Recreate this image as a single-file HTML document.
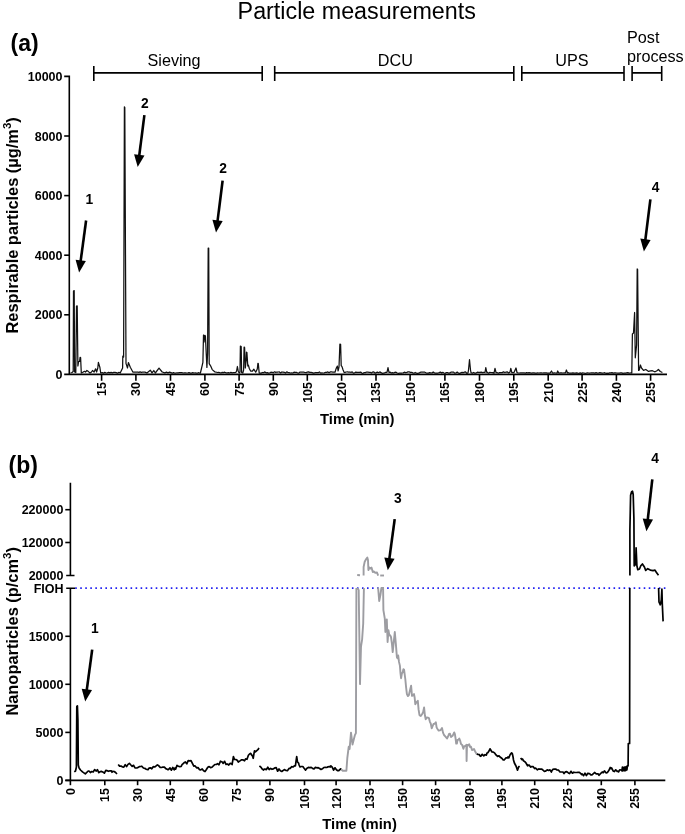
<!DOCTYPE html><html><head><meta charset="utf-8"><title>Particle measurements</title><style>html,body{margin:0;padding:0;background:#fff;overflow:hidden}svg{display:block;will-change:transform}text{font-family:"Liberation Sans",sans-serif;fill:#000}.b{font-weight:bold}.t{font-size:12.5px;font-weight:bold}.n{font-size:13.8px;font-weight:bold}.p{font-size:16.2px}</style></head><body><svg width="685" height="834" viewBox="0 0 685 834"><text x="237.6" y="18.7" style="font-size:23.3px">Particle measurements</text><text class="b" x="10.5" y="51" style="font-size:23px">(a)</text><text class="b" x="8.5" y="473" style="font-size:23px">(b)</text><path d="M93.8,66V81M93.8,72.9H262.2M262.2,66V81" stroke="#000" stroke-width="1.6" fill="none"/><path d="M274.7,66V81M274.7,72.9H513.8M513.8,66V81" stroke="#000" stroke-width="1.6" fill="none"/><path d="M521.8,66V81M521.8,72.9H624M624,66V81" stroke="#000" stroke-width="1.6" fill="none"/><path d="M632.1,66V81M632.1,72.9H661.7M661.7,66V81" stroke="#000" stroke-width="1.6" fill="none"/><text class="p" x="147.5" y="66">Sieving</text><text class="p" x="377.8" y="66">DCU</text><text class="p" x="555.3" y="66">UPS</text><text class="p" x="627" y="42.8">Post</text><text class="p" x="627" y="61.5">process</text><path d="M64.2,76.4H69.3V374.35M64.2,374.35H667" stroke="#000" stroke-width="1.6" fill="none"/><path d="M64.2,314.8H69.3" stroke="#000" stroke-width="1.6"/><path d="M64.2,255.2H69.3" stroke="#000" stroke-width="1.6"/><path d="M64.2,195.6H69.3" stroke="#000" stroke-width="1.6"/><path d="M64.2,136.0H69.3" stroke="#000" stroke-width="1.6"/><text class="t" x="62.5" y="378.9" text-anchor="end">0</text><text class="t" x="62.5" y="319.3" text-anchor="end">2000</text><text class="t" x="62.5" y="259.7" text-anchor="end">4000</text><text class="t" x="62.5" y="200.1" text-anchor="end">6000</text><text class="t" x="62.5" y="140.5" text-anchor="end">8000</text><text class="t" x="62.5" y="80.9" text-anchor="end">10000</text><path d="M101.6,374.3V380.8" stroke="#000" stroke-width="1.6"/><text class="t" transform="translate(106.0,382) rotate(-90)" text-anchor="end">15</text><path d="M135.9,374.3V380.8" stroke="#000" stroke-width="1.6"/><text class="t" transform="translate(140.3,382) rotate(-90)" text-anchor="end">30</text><path d="M170.5,374.3V380.8" stroke="#000" stroke-width="1.6"/><text class="t" transform="translate(174.9,382) rotate(-90)" text-anchor="end">45</text><path d="M204.9,374.3V380.8" stroke="#000" stroke-width="1.6"/><text class="t" transform="translate(209.3,382) rotate(-90)" text-anchor="end">60</text><path d="M239.1,374.3V380.8" stroke="#000" stroke-width="1.6"/><text class="t" transform="translate(243.5,382) rotate(-90)" text-anchor="end">75</text><path d="M273.3,374.3V380.8" stroke="#000" stroke-width="1.6"/><text class="t" transform="translate(277.8,382) rotate(-90)" text-anchor="end">90</text><path d="M307.3,374.3V380.8" stroke="#000" stroke-width="1.6"/><text class="t" transform="translate(311.8,382) rotate(-90)" text-anchor="end">105</text><path d="M341.6,374.3V380.8" stroke="#000" stroke-width="1.6"/><text class="t" transform="translate(346.1,382) rotate(-90)" text-anchor="end">120</text><path d="M376.0,374.3V380.8" stroke="#000" stroke-width="1.6"/><text class="t" transform="translate(380.4,382) rotate(-90)" text-anchor="end">135</text><path d="M410.1,374.3V380.8" stroke="#000" stroke-width="1.6"/><text class="t" transform="translate(414.6,382) rotate(-90)" text-anchor="end">150</text><path d="M444.9,374.3V380.8" stroke="#000" stroke-width="1.6"/><text class="t" transform="translate(449.3,382) rotate(-90)" text-anchor="end">165</text><path d="M479.5,374.3V380.8" stroke="#000" stroke-width="1.6"/><text class="t" transform="translate(483.9,382) rotate(-90)" text-anchor="end">180</text><path d="M513.8,374.3V380.8" stroke="#000" stroke-width="1.6"/><text class="t" transform="translate(518.2,382) rotate(-90)" text-anchor="end">195</text><path d="M548.2,374.3V380.8" stroke="#000" stroke-width="1.6"/><text class="t" transform="translate(552.7,382) rotate(-90)" text-anchor="end">210</text><path d="M582.1,374.3V380.8" stroke="#000" stroke-width="1.6"/><text class="t" transform="translate(586.6,382) rotate(-90)" text-anchor="end">225</text><path d="M616.4,374.3V380.8" stroke="#000" stroke-width="1.6"/><text class="t" transform="translate(620.9,382) rotate(-90)" text-anchor="end">240</text><path d="M650.6,374.3V380.8" stroke="#000" stroke-width="1.6"/><text class="t" transform="translate(655.1,382) rotate(-90)" text-anchor="end">255</text><text class="b" x="320" y="423.8" style="font-size:14.8px">Time (min)</text><text class="b" transform="translate(17.8,333.5) rotate(-90)" style="font-size:16.4px">Respirable particles (µg/m<tspan dy="-6.8" style="font-size:11.5px">3</tspan><tspan dy="6.8">)</tspan></text><polyline points="70.5,373.0 72.0,372.5 73.2,371.5 73.5,291.0 74.2,290.6 74.6,372.0 75.8,372.5 76.5,306.0 77.2,305.8 77.9,366.0 78.6,361.5 79.6,361.4 80.1,357.3 80.6,357.5 81.3,373.0 82.5,372.5 84.4,371.3 85.5,372.0 86.9,370.5 88.4,371.6 90.0,373.0 91.5,372.0 92.5,370.5 94.1,372.0 95.6,368.8 96.6,372.0 97.8,368.0 98.4,362.4 99.9,367.5 100.7,373.0 101.0,372.8 102.3,372.6 103.5,373.2 104.8,372.4 106.1,373.0 107.3,372.8 108.6,372.4 109.9,372.9 111.1,372.3 112.4,372.8 113.7,372.4 114.9,372.4 116.2,372.7 117.5,373.2 118.7,372.4 120.0,372.5 120.2,373.0 121.9,369.5 122.6,368.0 122.8,356.1 123.6,357.0 124.4,106.8 124.8,107.5 126.0,363.4 127.5,368.0 128.4,362.6 130.3,367.2 133.0,372.2 134.0,372.0 135.2,372.2 136.4,372.1 137.7,372.0 138.9,372.4 140.1,371.9 141.3,372.4 142.6,372.2 143.8,372.1 145.0,372.2 146.9,373.0 150.3,370.2 152.0,372.9 153.8,370.5 155.3,373.0 159.0,368.1 162.2,372.0 164.8,372.8 166.5,372.2 168.0,372.8 169.5,372.2 171.0,372.7 172.2,373.2 173.4,372.6 174.6,373.0 175.8,373.0 177.0,372.8 178.2,372.9 179.5,372.6 180.7,372.5 181.9,372.7 183.1,373.0 184.3,372.8 185.5,372.8 186.7,373.0 187.9,372.9 189.1,372.7 190.3,373.1 191.5,373.1 192.8,372.7 194.0,373.0 195.2,372.9 196.4,373.2 197.6,373.1 198.8,372.7 200.0,373.3 200.4,373.0 201.6,368.0 202.9,362.4 203.5,335.0 204.1,342.0 204.7,335.3 205.4,336.0 206.9,367.4 207.6,353.0 208.2,248.0 208.7,248.0 209.2,363.7 210.7,366.1 212.2,369.6 214.7,371.8 217.8,372.5 218.5,372.4 219.7,372.7 221.0,373.0 222.2,372.4 223.4,372.7 224.7,372.2 225.9,372.8 227.2,372.9 228.4,372.7 229.6,373.0 230.9,372.4 232.1,372.8 233.3,372.6 234.6,372.6 235.8,372.5 236.6,371.0 237.4,366.5 238.3,371.5 239.2,373.0 240.0,372.0 240.4,346.1 241.2,346.5 241.6,372.5 242.8,373.0 243.6,370.0 244.1,347.1 244.6,347.5 245.3,368.0 246.2,360.0 246.5,352.1 246.9,352.5 247.8,366.0 248.4,365.2 249.3,368.5 250.6,371.0 252.5,371.0 253.9,369.2 255.7,372.2 257.3,369.0 257.9,363.4 258.3,363.6 259.2,373.0 260.0,373.0 261.2,373.1 262.4,372.5 263.6,372.7 264.9,371.9 266.1,372.8 267.3,372.7 268.5,373.2 269.7,373.0 270.9,372.2 272.1,372.3 273.3,372.7 274.6,371.8 275.8,372.4 277.0,372.0 278.2,372.0 279.4,371.9 280.6,372.9 281.8,372.0 283.0,372.1 284.3,372.3 285.5,373.0 286.7,371.9 287.9,372.4 289.1,372.6 290.3,373.0 291.5,372.9 292.8,373.0 294.0,372.2 295.2,372.4 296.4,372.3 297.6,373.0 298.8,373.1 300.0,372.0 301.2,372.0 302.5,372.1 303.7,372.1 304.9,372.5 306.1,372.6 307.3,372.2 308.5,371.8 309.7,372.4 311.0,372.3 312.2,372.6 313.4,373.1 314.6,372.8 315.8,372.5 317.0,372.7 318.2,372.7 319.4,371.9 320.7,373.1 321.9,372.9 323.1,373.0 324.3,372.9 325.5,372.3 326.7,372.4 327.9,371.9 329.1,372.7 330.4,371.9 331.6,371.9 332.8,372.1 334.0,372.0 335.0,372.2 336.2,368.4 337.4,366.1 338.1,370.8 339.0,367.0 339.9,344.1 340.6,344.3 341.2,365.6 342.0,366.6 343.0,369.8 344.2,372.5 345.0,372.4 346.2,372.0 347.4,371.9 348.6,372.1 349.8,372.0 351.0,372.4 352.2,371.9 353.4,373.1 354.6,372.8 355.8,372.1 357.0,372.3 358.2,372.4 359.4,372.4 360.6,372.1 361.8,373.1 363.0,373.3 364.2,372.6 365.4,372.6 366.6,372.0 367.8,372.0 369.0,372.4 370.2,372.3 371.4,373.1 372.6,372.1 373.8,371.9 375.0,373.2 376.2,372.6 377.4,372.1 378.6,372.7 379.8,371.9 381.0,372.6 382.2,373.3 383.4,373.1 384.6,372.9 385.8,372.3 387.0,372.4 388.0,367.6 389.0,372.5 390.0,372.1 391.2,373.0 392.4,372.6 393.6,373.0 394.8,372.4 396.0,372.2 397.2,373.0 398.4,373.3 399.6,373.1 400.8,373.0 402.0,373.0 403.2,372.9 404.4,372.2 405.6,372.6 406.8,372.4 408.0,371.9 409.2,371.9 410.4,372.3 411.6,372.3 412.8,372.9 414.0,373.2 415.2,372.5 416.4,373.2 417.6,373.3 418.8,373.2 420.0,372.4 421.2,372.2 422.4,372.2 423.6,372.2 424.8,372.2 426.0,372.8 427.2,373.2 428.4,373.1 429.6,372.6 430.8,372.8 432.0,373.0 433.2,372.0 434.4,372.8 435.6,373.2 436.8,373.0 438.0,373.0 439.2,372.6 440.4,372.1 441.6,373.0 442.8,372.4 444.0,373.0 445.2,373.3 446.4,372.5 447.6,372.5 448.8,373.2 450.0,372.9 451.2,372.1 452.4,372.1 453.6,372.1 454.8,373.2 456.0,373.0 457.2,372.1 458.4,373.1 459.6,373.3 460.8,372.8 462.0,372.4 463.2,372.7 464.4,372.1 465.6,371.9 466.8,373.3 468.0,372.8 468.5,370.0 469.5,359.7 470.5,370.0 471.0,372.6 472.3,373.2 473.5,372.5 474.8,373.1 476.1,373.1 477.4,372.2 478.6,372.3 479.9,372.3 481.2,372.2 482.5,372.7 483.7,372.3 485.0,372.5 485.8,367.6 486.8,372.5 487.0,372.1 488.4,373.2 489.8,372.4 491.2,372.5 492.6,372.7 494.0,373.2 495.0,368.4 496.0,372.5 497.0,372.5 498.3,373.2 499.6,372.6 500.9,372.6 502.2,372.6 503.5,371.9 504.8,372.5 506.1,372.2 507.4,371.9 508.7,373.0 510.0,372.1 510.8,368.4 511.8,372.5 514.0,372.5 516.0,368.0 517.0,372.5 518.0,372.9 519.2,373.0 520.5,372.9 521.7,372.8 522.9,372.9 524.2,372.9 525.4,373.1 526.6,372.7 527.8,372.9 529.1,372.7 530.3,372.8 531.5,373.1 532.8,372.9 534.0,372.9 535.2,373.1 536.5,373.1 537.7,372.9 538.9,373.0 540.2,372.9 541.4,372.9 542.6,373.0 543.8,372.9 545.1,372.9 546.3,372.9 547.5,373.2 548.8,373.0 550.0,373.1 551.5,371.0 552.5,373.0 553.0,373.2 554.3,372.9 555.7,373.0 557.0,373.2 557.7,371.0 558.7,373.0 559.0,373.1 560.3,372.9 561.6,372.8 562.9,373.0 564.2,372.8 565.5,372.9 566.4,370.0 567.5,373.0 568.0,372.7 569.2,373.1 570.4,373.2 571.7,373.2 572.9,372.8 574.1,373.1 575.3,373.1 576.5,372.8 577.8,373.2 579.0,373.3 580.2,372.8 581.4,373.3 582.7,372.9 583.9,373.0 585.1,373.3 586.3,373.2 587.5,372.8 588.8,373.0 590.0,373.0 591.2,372.9 592.4,372.8 593.6,372.9 594.9,373.1 596.1,372.7 597.3,373.0 598.5,373.0 599.8,372.7 601.0,372.9 602.2,373.1 603.4,373.0 604.6,372.7 605.9,373.3 607.1,373.2 608.3,373.3 609.5,372.8 610.7,372.9 612.0,372.7 613.2,373.2 614.4,372.9 615.6,372.8 616.8,373.0 618.1,373.2 619.3,373.2 620.5,372.9 621.7,372.8 623.0,373.3 624.2,373.0 625.4,373.1 626.6,372.8 627.8,372.7 629.1,373.1 630.3,373.0 631.5,372.7 631.8,373.0 632.4,334.0 633.5,333.0 634.6,312.5 635.3,357.8 636.6,345.0 637.2,269.0 637.6,269.5 638.6,370.4 639.3,370.0 640.4,365.0 641.5,368.0 643.5,370.4 645.8,369.5 648.6,371.4 650.5,370.8 652.4,370.7 654.7,371.8 656.6,371.0 658.4,369.5 660.3,371.5 662.4,372.5" fill="none" stroke="#111" stroke-width="1.25" stroke-linejoin="round"/><path d="M70.4,482.7V575.5M66.2,575.5H74.5M66.2,588.3H75.2M70.4,588.3V780.4M65.3,780.4H665.3" stroke="#000" stroke-width="1.6" fill="none"/><path d="M65.3,509.7H70.4" stroke="#000" stroke-width="1.6"/><text class="t" x="63.4" y="514.2" text-anchor="end">220000</text><path d="M65.3,542.5H70.4" stroke="#000" stroke-width="1.6"/><text class="t" x="63.4" y="547.0" text-anchor="end">120000</text><text class="t" x="63.4" y="580.0" text-anchor="end">20000</text><text class="t" x="63.6" y="592.6" text-anchor="end">FIOH</text><path d="M65.3,780.4H70.4" stroke="#000" stroke-width="1.6"/><text class="t" x="63.4" y="784.9" text-anchor="end">0</text><path d="M65.3,732.4H70.4" stroke="#000" stroke-width="1.6"/><text class="t" x="63.4" y="736.9" text-anchor="end">5000</text><path d="M65.3,684.3H70.4" stroke="#000" stroke-width="1.6"/><text class="t" x="63.4" y="688.8" text-anchor="end">10000</text><path d="M65.3,636.3H70.4" stroke="#000" stroke-width="1.6"/><text class="t" x="63.4" y="640.8" text-anchor="end">15000</text><path d="M70.4,780.4V785.2" stroke="#000" stroke-width="1.6"/><text class="t" transform="translate(74.9,788) rotate(-90)" text-anchor="end">0</text><path d="M104.8,780.4V785.2" stroke="#000" stroke-width="1.6"/><text class="t" transform="translate(109.2,788) rotate(-90)" text-anchor="end">15</text><path d="M137.6,780.4V785.2" stroke="#000" stroke-width="1.6"/><text class="t" transform="translate(142.0,788) rotate(-90)" text-anchor="end">30</text><path d="M170.3,780.4V785.2" stroke="#000" stroke-width="1.6"/><text class="t" transform="translate(174.8,788) rotate(-90)" text-anchor="end">45</text><path d="M203.4,780.4V785.2" stroke="#000" stroke-width="1.6"/><text class="t" transform="translate(207.8,788) rotate(-90)" text-anchor="end">60</text><path d="M236.9,780.4V785.2" stroke="#000" stroke-width="1.6"/><text class="t" transform="translate(241.3,788) rotate(-90)" text-anchor="end">75</text><path d="M269.9,780.4V785.2" stroke="#000" stroke-width="1.6"/><text class="t" transform="translate(274.3,788) rotate(-90)" text-anchor="end">90</text><path d="M304.5,780.4V785.2" stroke="#000" stroke-width="1.6"/><text class="t" transform="translate(308.9,788) rotate(-90)" text-anchor="end">105</text><path d="M336.1,780.4V785.2" stroke="#000" stroke-width="1.6"/><text class="t" transform="translate(340.6,788) rotate(-90)" text-anchor="end">120</text><path d="M370.0,780.4V785.2" stroke="#000" stroke-width="1.6"/><text class="t" transform="translate(374.4,788) rotate(-90)" text-anchor="end">135</text><path d="M402.6,780.4V785.2" stroke="#000" stroke-width="1.6"/><text class="t" transform="translate(407.1,788) rotate(-90)" text-anchor="end">150</text><path d="M435.6,780.4V785.2" stroke="#000" stroke-width="1.6"/><text class="t" transform="translate(440.1,788) rotate(-90)" text-anchor="end">165</text><path d="M470.0,780.4V785.2" stroke="#000" stroke-width="1.6"/><text class="t" transform="translate(474.4,788) rotate(-90)" text-anchor="end">180</text><path d="M501.9,780.4V785.2" stroke="#000" stroke-width="1.6"/><text class="t" transform="translate(506.3,788) rotate(-90)" text-anchor="end">195</text><path d="M534.7,780.4V785.2" stroke="#000" stroke-width="1.6"/><text class="t" transform="translate(539.2,788) rotate(-90)" text-anchor="end">210</text><path d="M567.8,780.4V785.2" stroke="#000" stroke-width="1.6"/><text class="t" transform="translate(572.2,788) rotate(-90)" text-anchor="end">225</text><path d="M601.3,780.4V785.2" stroke="#000" stroke-width="1.6"/><text class="t" transform="translate(605.8,788) rotate(-90)" text-anchor="end">240</text><path d="M634.9,780.4V785.2" stroke="#000" stroke-width="1.6"/><text class="t" transform="translate(639.4,788) rotate(-90)" text-anchor="end">255</text><text class="b" x="322.3" y="828.8" style="font-size:14.8px">Time (min)</text><text class="b" transform="translate(17.8,715.6) rotate(-90)" style="font-size:16.4px">Nanoparticles (p/cm<tspan dy="-6.8" style="font-size:11.5px">3</tspan><tspan dy="6.8">)</tspan></text><line x1="75.2" y1="588.2" x2="665.8" y2="588.2" stroke="#2020f0" stroke-width="1.7" stroke-dasharray="1.6 3.431"/><polyline points="74.3,771.9 75.5,771.0 76.4,767.0 76.8,706.5 77.4,705.8 77.9,720.0 78.3,765.0 79.1,768.1 80.5,770.0 82.5,771.9 85.3,773.9 88.2,771.0 89.0,771.0 90.4,772.5 91.8,771.5 93.2,772.0 94.6,769.6 96.3,771.0 97.4,769.7 98.8,772.7 100.2,771.6 101.6,771.4 103.3,772.3 104.4,773.2 105.8,770.3 106.8,770.6 108.6,771.3 110.0,770.8 111.4,770.8 112.0,772.3 112.8,771.4 114.2,771.5 115.6,772.5 117.0,774.0" fill="none" stroke="#000" stroke-width="1.7" stroke-linejoin="round"/><polyline points="118.2,764.5 119.6,766.1 121.0,766.1 122.6,767.0 123.8,767.2 125.2,764.7 126.6,766.5 128.0,764.4 129.4,763.4 130.4,764.5 132.2,766.3 133.6,765.3 135.0,767.9 136.6,768.0 137.8,767.6 139.2,766.7 140.6,766.5 141.8,766.2 143.4,768.0 144.8,768.3 146.2,769.2 148.0,769.7 149.0,768.1 150.4,767.8 151.8,768.8 153.2,766.7 154.6,767.0 155.8,766.2 157.4,764.9 158.8,765.8 160.2,767.3 161.6,767.5 162.9,767.0 164.4,767.1 165.8,768.6 167.2,769.2 168.0,769.7 168.6,769.4 170.0,767.9 171.4,770.2 172.8,767.5 174.2,769.8 175.0,768.0 175.6,769.2 177.0,765.4 178.4,766.2 179.8,766.7 181.2,766.5 182.1,764.5 182.6,764.1 184.0,762.8 185.4,761.9 186.8,763.8 188.2,760.6 189.9,760.8 191.0,760.7 192.4,763.4 193.8,766.2 194.9,765.8 196.6,767.8 198.0,767.6 199.4,769.6 200.8,769.8 202.2,769.0 203.6,770.7 205.0,771.5 206.4,769.5 207.8,767.3 209.2,766.6 210.6,767.7 212.3,767.0 213.4,765.8 214.8,764.5 216.2,764.5 217.6,763.7 219.0,764.8 220.4,761.2 222.2,762.0 223.2,763.4 224.6,761.3 226.0,764.4 227.4,764.0 228.8,765.0 230.2,763.3 231.6,763.9 232.1,764.5 233.4,756.6 234.4,759.4 235.8,759.5 237.2,760.3 238.3,762.0 240.0,760.9 241.4,759.9 242.8,759.8 244.5,760.8 245.6,758.8 247.0,759.3 248.4,755.3 249.8,753.7 250.7,753.4 251.2,754.4 252.6,756.1 253.2,758.3 254.0,753.3 254.5,750.9 255.4,751.8 256.8,750.6 258.2,749.4 258.9,747.9" fill="none" stroke="#000" stroke-width="1.7" stroke-linejoin="round"/><polyline points="259.4,765.8 260.8,767.1 262.2,769.0 263.6,770.0 264.4,769.0 265.0,769.1 266.4,769.6 267.8,767.2 269.2,769.5 270.6,768.4 272.0,769.3 273.4,768.9 274.3,768.3 274.8,767.8 276.2,767.6 277.6,771.2 279.0,769.0 280.4,770.8 281.8,771.5 283.2,770.4 284.6,769.6 286.0,770.5 287.4,770.7 289.2,768.3 290.2,768.4 291.6,766.7 293.0,767.0 294.4,765.8 295.4,765.8 296.2,760.0 296.7,756.6 297.5,762.0 298.6,763.1 299.1,765.0 300.0,767.0 301.4,766.5 302.8,766.5 304.1,768.3 305.6,770.1 307.0,768.3 308.4,767.4 309.8,767.7 311.2,767.4 312.6,768.4 314.0,769.0 315.4,767.4 316.8,767.8 318.2,767.7 319.6,768.5 321.0,769.5 322.4,768.8 323.8,767.5 325.2,767.3 326.6,767.5 328.0,766.9 329.4,766.5 330.2,767.0 330.8,765.8 332.2,767.1 333.6,770.1 335.0,767.8 336.4,769.7 337.8,770.7 338.8,770.7 340.6,768.9 341.3,769.5" fill="none" stroke="#000" stroke-width="1.7" stroke-linejoin="round"/><polyline points="476.6,753.9 478.0,754.4 479.4,754.7 480.0,756.0 480.8,756.3 482.2,754.3 483.8,755.9 485.0,754.7 486.4,755.1 487.0,753.0 487.8,752.7 489.0,751.0 490.0,748.8 490.6,749.7 492.0,752.0 493.4,752.1 494.8,753.2 496.0,754.9 497.6,756.4 499.0,755.8 500.0,757.0 501.8,758.3 503.2,759.9 504.2,760.0 506.0,757.8 507.4,758.0 508.0,757.0 508.8,757.9 510.2,754.5 511.6,752.9 512.4,753.9 513.0,756.7 513.5,760.0 514.4,763.0 516.0,766.0 517.5,770.2 518.6,767.0 519.6,766.1" fill="none" stroke="#000" stroke-width="1.7" stroke-linejoin="round"/><polyline points="520.6,758.0 522.0,759.6 522.6,759.0 523.4,760.7 524.8,761.6 526.0,763.0 527.6,765.8 529.0,765.0 530.8,767.1 531.8,766.5 533.2,766.7 534.6,768.6 535.6,768.0 537.4,769.8 538.8,768.9 540.0,769.2 541.6,769.0 543.0,770.1 544.4,771.3 545.4,771.2 547.2,769.9 548.6,770.5 550.0,769.9 551.4,772.0 552.0,770.5 552.8,769.4 554.2,769.1 555.6,769.0 557.0,770.0 558.6,770.2 559.8,771.8 561.2,772.0 563.0,772.0 564.0,773.5 565.4,771.9 566.8,771.7 568.4,772.9 569.6,773.6 571.0,771.3 572.4,773.2 573.8,772.2 575.0,772.5 576.6,772.5 578.0,772.4 579.4,772.4 580.8,773.6 581.5,774.5 582.2,774.0 583.6,775.7 585.0,773.2 586.4,775.6 587.8,773.3 589.2,773.6 590.0,774.0 590.6,774.9 592.0,774.9 593.4,773.7 594.8,772.5 596.2,773.8 598.0,773.8 599.0,775.3 600.0,774.2 602.2,772.0 603.2,772.7 604.4,770.9 606.2,773.0 607.4,772.5 608.8,770.6 609.5,769.0 610.2,767.5 611.0,768.7 611.6,767.9 613.1,770.9 614.4,771.6 615.7,769.8 617.2,771.5 617.9,771.2 618.6,771.9 619.7,769.8 621.4,770.0 621.9,770.9 622.4,767.0 622.9,771.0 623.4,767.6 623.9,770.5 624.4,767.0 624.9,771.0 625.4,767.0 625.9,770.5 626.4,766.5 626.9,770.0 627.4,766.0 627.7,765.8 628.1,765.8 628.3,743.5 629.6,743.5 629.8,588.0" fill="none" stroke="#000" stroke-width="1.7" stroke-linejoin="round"/><polyline points="658.6,588.0 659.0,602.0 660.3,604.8 661.3,600.0 661.9,589.0 662.3,604.0 663.1,621.4" fill="none" stroke="#000" stroke-width="1.7" stroke-linejoin="round"/><polyline points="629.9,575.6 629.9,530.1 630.6,495.2 631.5,492.0 632.5,491.2 633.2,494.5 633.9,518.3 634.2,565.8 635.6,564.4 636.1,547.9 636.9,565.8 637.8,569.7 639.5,569.0 640.8,565.8 642.4,564.0 644.4,567.0 645.7,570.4 647.7,568.7 650.3,570.1 653.0,570.6 655.0,570.1 656.3,572.3 658.5,575.3" fill="none" stroke="#000" stroke-width="1.7" stroke-linejoin="round"/><polyline points="341.3,769.5 342.7,770.7 346.4,770.7 347.3,758.2 348.7,746.8 349.6,749.0 351.0,732.6 352.5,744.5 354.8,735.4 355.9,733.1 356.4,588.0" fill="none" stroke="#9d9da2" stroke-width="1.9" stroke-linejoin="round"/><polyline points="357.1,588.0 358.7,590.0 360.0,684.1 361.0,646.5 362.1,639.7 363.2,623.7 363.9,588.0" fill="none" stroke="#9d9da2" stroke-width="1.9" stroke-linejoin="round"/><polyline points="378.1,587.5 379.2,601.0 380.4,595.0 381.4,588.0 383.1,588.0 383.4,610.2 384.8,618.6 385.4,632.0 386.8,619.4 387.6,642.0 388.5,630.3 389.3,635.4 390.1,635.3 391.0,637.0 391.9,643.5 392.7,652.1 393.8,641.6 394.8,632.0 395.9,644.4 396.9,657.2 397.5,658.2 398.2,655.5 399.0,661.9 399.9,665.6 400.5,673.4 401.1,678.2 401.9,673.3 402.7,672.3 403.4,669.2 404.1,669.8 405.3,679.0 406.1,687.4 406.9,694.1 407.9,696.1 408.9,695.0 410.0,690.2 411.1,685.7 412.0,695.8 413.0,695.3 414.0,694.1 414.6,697.2 415.3,704.2 416.6,702.1 417.8,700.8 418.6,709.7 419.5,715.1 420.8,716.0 422.0,714.3 423.1,712.3 424.1,707.5 424.9,715.3 425.7,719.3 426.8,717.4 427.9,717.6 428.9,718.1 429.9,721.8 430.8,723.7 431.7,728.3 432.6,726.2 433.5,724.0 434.6,723.8 435.8,722.2 436.6,727.4 437.5,729.0 438.7,730.6 439.9,730.4 440.9,729.8 442.0,728.0 443.0,732.6 444.0,735.0 445.5,736.6 447.0,738.5 448.0,736.5 449.0,734.0 450.0,733.7 451.0,737.0 452.6,735.8 454.2,732.4 454.9,734.1 455.5,738.0 456.2,743.6 456.9,743.5 457.5,740.0 458.4,739.8 459.3,738.5 460.1,740.5 461.0,744.0 462.2,744.9 463.4,748.8 464.2,746.4 465.0,746.0 465.7,745.9 466.4,744.7 466.6,761.0 467.0,745.0 467.8,745.6 468.5,744.7 469.2,744.3 470.0,747.0 471.0,746.8 472.0,750.0 473.0,749.6 474.0,749.0 475.3,751.8 476.6,753.9" fill="none" stroke="#9d9da2" stroke-width="1.9" stroke-linejoin="round"/><polyline points="357.2,575.0 360.0,575.3" fill="none" stroke="#9d9da2" stroke-width="1.9" stroke-linejoin="round"/><polyline points="363.6,575.5 363.6,567.0 364.7,561.8 366.2,559.0 367.3,557.6 368.0,560.0 368.4,570.0 369.5,567.6 370.5,568.5 371.5,567.6 372.8,572.0 374.0,571.5 375.0,572.7 377.0,572.5 378.2,575.7" fill="none" stroke="#9d9da2" stroke-width="1.9" stroke-linejoin="round"/><polyline points="380.2,575.5 384.0,575.5" fill="none" stroke="#9d9da2" stroke-width="1.9" stroke-linejoin="round"/><text class="n" x="85.6" y="204.3">1</text><line x1="86.1" y1="220.5" x2="80.6" y2="261.4" stroke="#000" stroke-width="2.6"/><polygon points="79.1,272.6 85.9,261.1 75.6,259.7" fill="#000"/><text class="n" x="141.0" y="107.8">2</text><line x1="144.4" y1="115.1" x2="139.2" y2="155.9" stroke="#000" stroke-width="2.6"/><polygon points="137.7,167.1 144.5,155.6 134.1,154.2" fill="#000"/><text class="n" x="219.2" y="172.8">2</text><line x1="222.6" y1="180.6" x2="217.5" y2="221.4" stroke="#000" stroke-width="2.6"/><polygon points="216.0,232.6 222.7,221.0 212.4,219.7" fill="#000"/><text class="n" x="651.7" y="191.7">4</text><line x1="650.4" y1="199.4" x2="645.3" y2="240.3" stroke="#000" stroke-width="2.6"/><polygon points="643.9,251.5 650.6,239.9 640.3,238.6" fill="#000"/><text class="n" x="90.9" y="633.4">1</text><line x1="92.2" y1="649.6" x2="86.7" y2="690.4" stroke="#000" stroke-width="2.6"/><polygon points="85.2,701.6 92.0,690.1 81.7,688.7" fill="#000"/><text class="n" x="394.0" y="502.6">3</text><line x1="394.7" y1="519.1" x2="389.3" y2="559.1" stroke="#000" stroke-width="2.6"/><polygon points="387.8,570.3 394.6,558.8 384.3,557.4" fill="#000"/><text class="n" x="651.3" y="463.1">4</text><line x1="652.3" y1="479.4" x2="647.7" y2="520.0" stroke="#000" stroke-width="2.6"/><polygon points="646.4,531.2 653.0,519.6 642.7,518.4" fill="#000"/></svg></body></html>
